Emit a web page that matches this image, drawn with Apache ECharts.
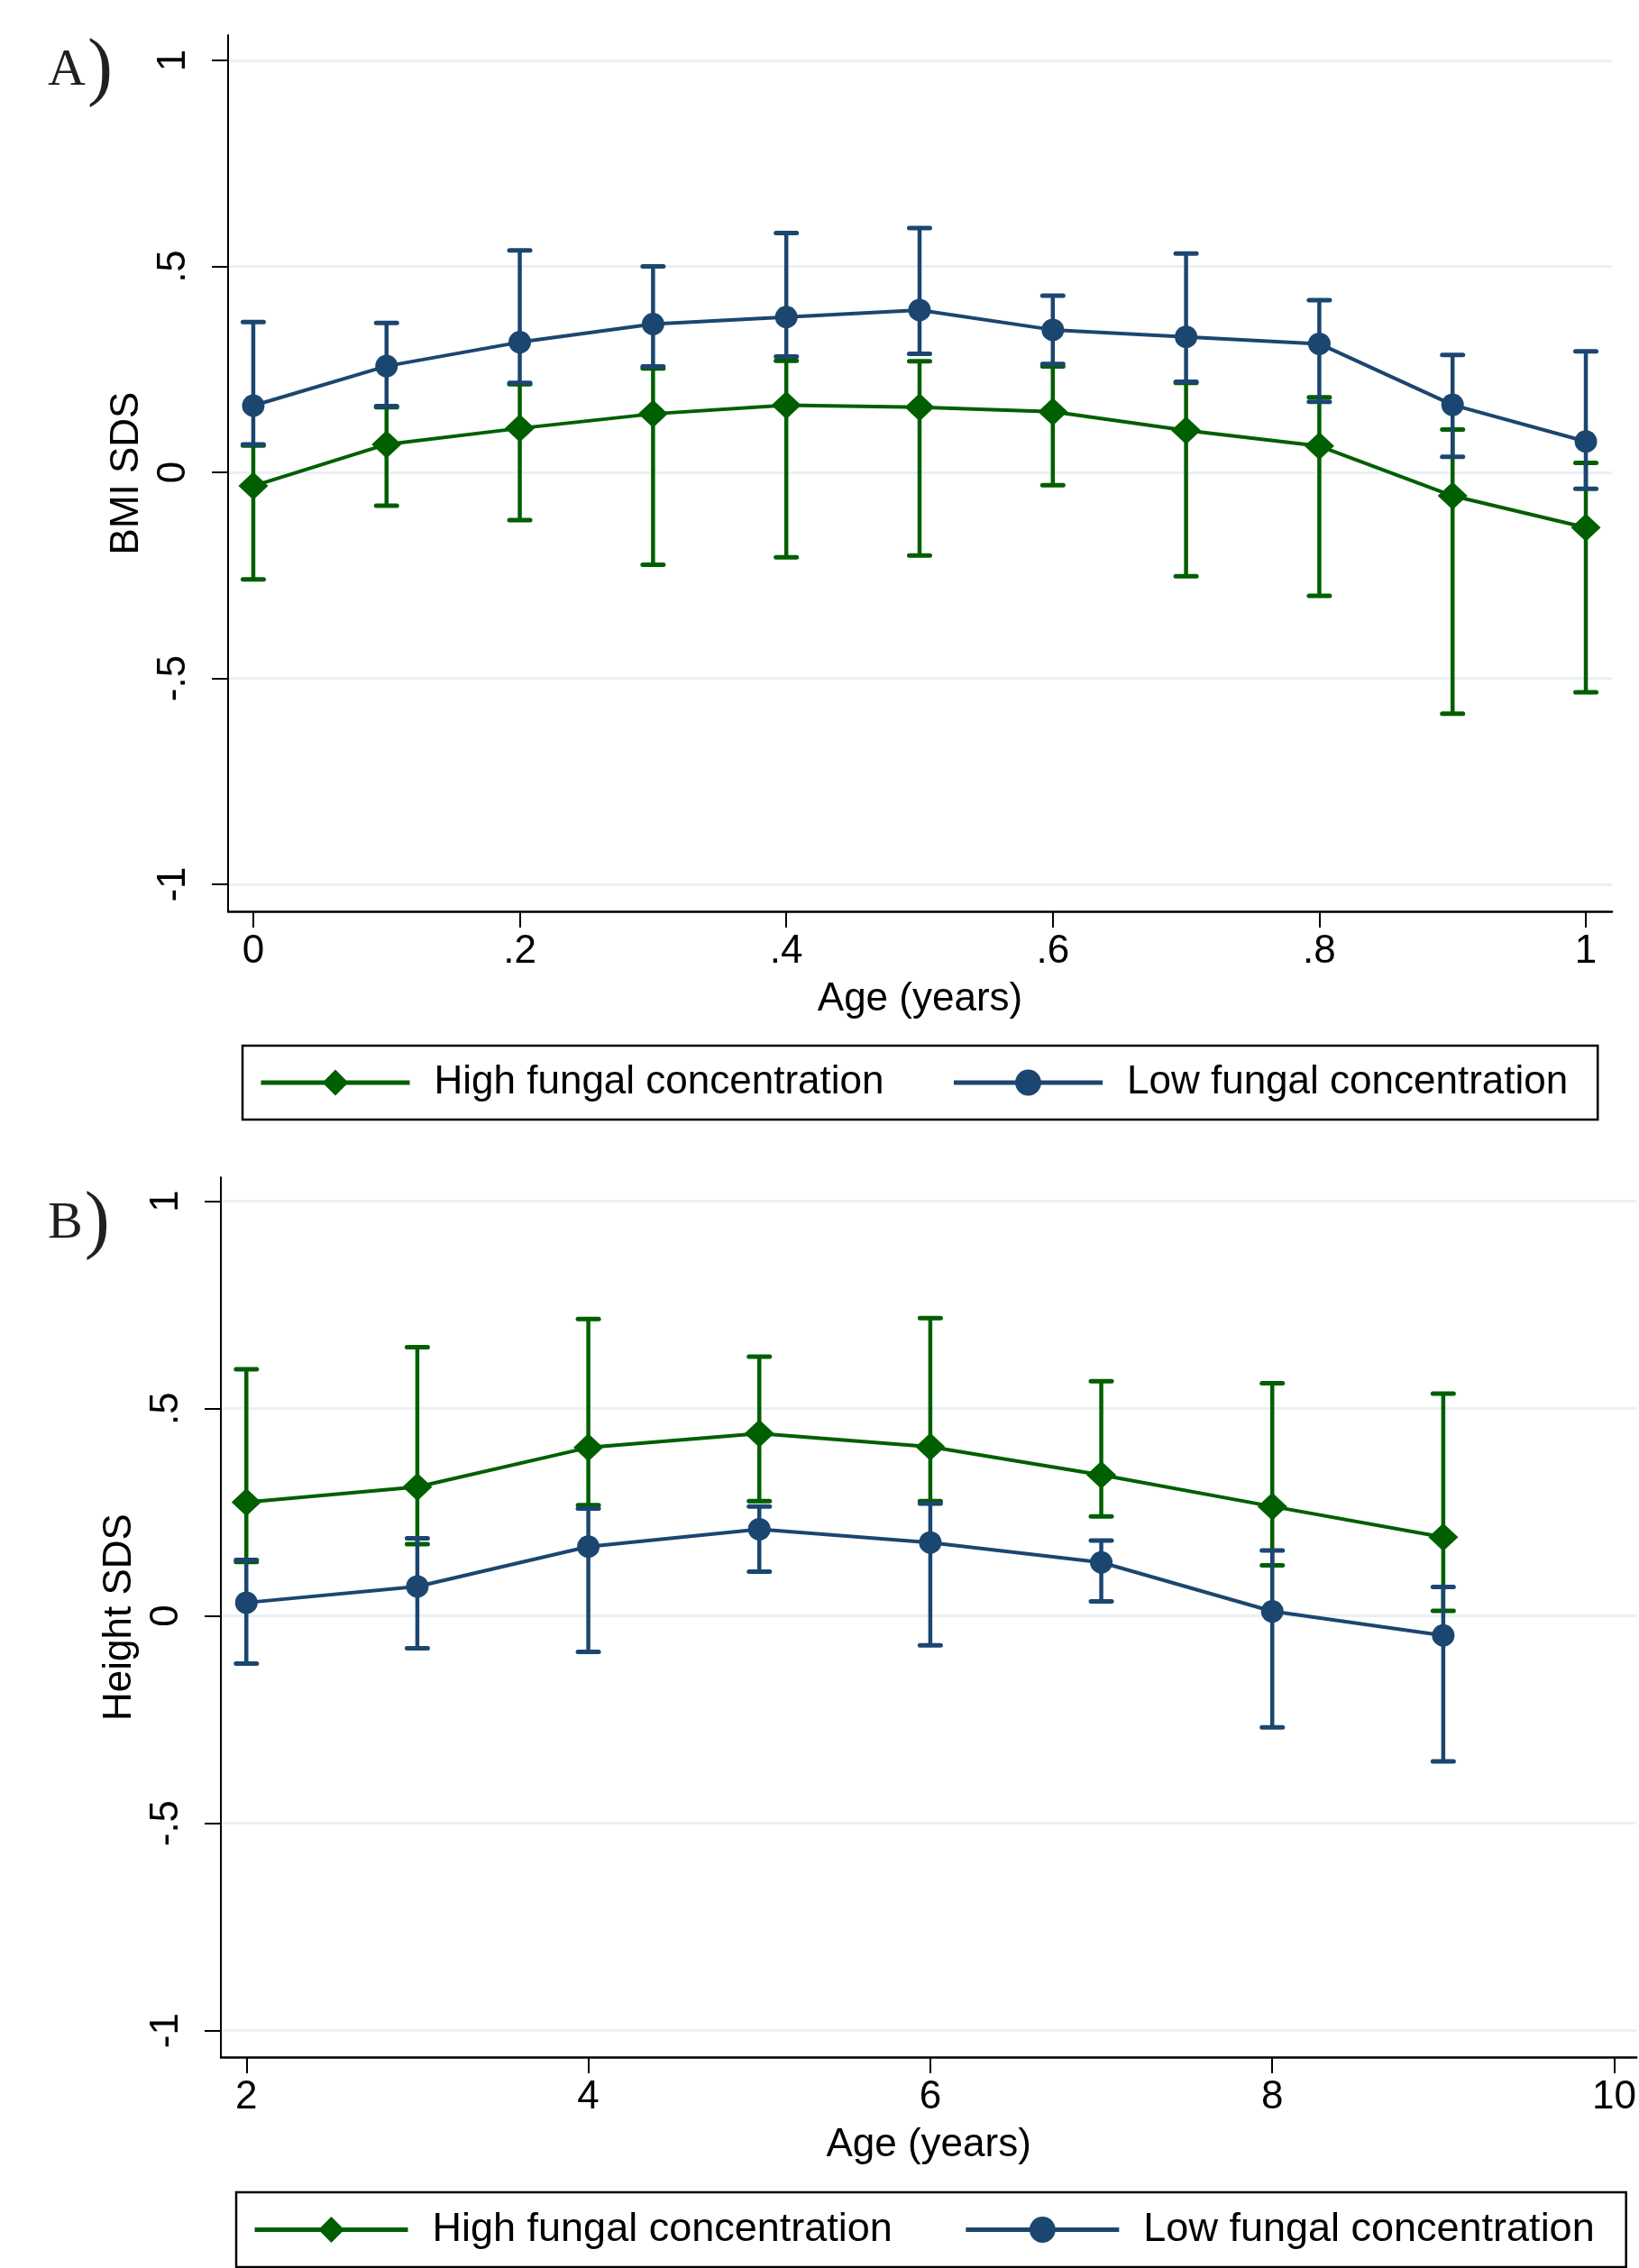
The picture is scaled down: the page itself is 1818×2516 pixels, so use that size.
<!DOCTYPE html>
<html>
<head>
<meta charset="utf-8">
<script src="https://cdn.jsdelivr.net/npm/echarts@6/dist/echarts.min.js"></script>
<style>
  html, body { margin: 0; padding: 0; background: #fff; }
  #chart { width: 1818px; height: 2516px; }
</style>
</head>
<body>
<div id="chart"></div>
<script>
// panel A: BMI SDS, age 0-1
let ageA = [0, 0.1, 0.2, 0.3, 0.4, 0.5, 0.6, 0.7, 0.8, 0.9, 1];
let highA = [-0.033, 0.068, 0.107, 0.142, 0.163, 0.158, 0.147, 0.102, 0.064, -0.057, -0.134];
let highA_lo = [-0.26, -0.081, -0.116, -0.224, -0.206, -0.202, -0.031, -0.252, -0.3, -0.586, -0.534];
let highA_hi = [0.065, 0.158, 0.214, 0.252, 0.271, 0.27, 0.257, 0.217, 0.182, 0.104, 0.023];
let lowA = [0.162, 0.258, 0.316, 0.36, 0.377, 0.394, 0.346, 0.329, 0.312, 0.164, 0.075];
let lowA_lo = [0.068, 0.161, 0.217, 0.257, 0.281, 0.288, 0.263, 0.22, 0.171, 0.038, -0.04];
let lowA_hi = [0.365, 0.363, 0.539, 0.5, 0.581, 0.593, 0.429, 0.531, 0.418, 0.285, 0.294];

// panel B: Height SDS, age 2-9
let ageB = [2, 3, 4, 5, 6, 7, 8, 9];
let highB = [0.274, 0.311, 0.406, 0.44, 0.408, 0.34, 0.264, 0.19];
let highB_lo = [0.13, 0.173, 0.267, 0.277, 0.277, 0.24, 0.122, 0.012];
let highB_hi = [0.595, 0.648, 0.716, 0.625, 0.718, 0.566, 0.561, 0.536];
let lowB = [0.032, 0.071, 0.167, 0.209, 0.177, 0.129, 0.011, -0.047];
let lowB_lo = [-0.115, -0.078, -0.087, 0.107, -0.071, 0.035, -0.269, -0.351];
let lowB_hi = [0.135, 0.187, 0.259, 0.264, 0.271, 0.182, 0.158, 0.07];

let yTicks = [-1, -0.5, 0, 0.5, 1];
let xTicksA = [0, 0.2, 0.4, 0.6, 0.8, 1];
let xTicksB = [2, 4, 6, 8, 10];

const GREEN = '#005f00';
const BLUE = '#1b4670';
const HIGH = 'High fungal concentration';
const LOW = 'Low fungal concentration';
const FONT = 'Liberation Sans';

function stataNum(v) {
    // stata style: .5, -.5
    return String(v).replace('0.', '.');
}
function pairs(xs, ys) {
    return xs.map(function (x, i) { return [x, ys[i]]; });
}
function ciData(xs, lo, hi) {
    return xs.map(function (x, i) { return [x, lo[i], hi[i]]; });
}
function errorBar(params, api) {
    let x = api.value(0);
    let top = api.coord([x, api.value(2)]);
    let bot = api.coord([x, api.value(1)]);
    let half = 11.5;
    let col = api.visual('color');
    let st = { stroke: col, lineWidth: 4.5 };
    let cap = { stroke: col, lineWidth: 5, lineCap: 'round' };
    return {
        type: 'group',
        children: [
            { type: 'line', shape: { x1: top[0], y1: top[1], x2: bot[0], y2: bot[1] }, style: st },
            { type: 'line', shape: { x1: top[0] - half, y1: top[1], x2: top[0] + half, y2: top[1] }, style: cap },
            { type: 'line', shape: { x1: bot[0] - half, y1: bot[1], x2: bot[0] + half, y2: bot[1] }, style: cap }
        ]
    };
}
function xAxisOf(idx, min, max, ticks) {
    return {
        type: 'value', gridIndex: idx, min: min, max: max,
        name: 'Age (years)', nameLocation: 'middle', nameGap: 76,
        nameTextStyle: { fontFamily: FONT, fontSize: 44, color: '#000' },
        axisLine: { onZero: false, lineStyle: { color: '#000', width: 2.5 } },
        axisTick: { show: true, length: 18, customValues: ticks, lineStyle: { color: '#000', width: 2 } },
        axisLabel: { customValues: ticks, margin: 23, fontFamily: FONT, fontSize: 44, color: '#000', formatter: stataNum },
        splitLine: { show: false }
    };
}
function yAxisOf(idx, min, max, title, gap) {
    return {
        type: 'value', gridIndex: idx, min: min, max: max,
        name: title, nameLocation: 'middle', nameGap: gap,
        nameTextStyle: { fontFamily: FONT, fontSize: 44, color: '#000' },
        axisLine: { show: true, onZero: false, lineStyle: { color: '#000', width: 2 } },
        axisTick: { show: true, length: 18, customValues: yTicks, lineStyle: { color: '#000', width: 2 } },
        axisLabel: { customValues: yTicks, rotate: 90, margin: 38, fontFamily: FONT, fontSize: 44, color: '#000', formatter: stataNum },
        splitLine: { show: true, lineStyle: { color: '#e9f1f3', width: 3 } }
    };
}
function legendOf(idx, left, top, fs, w, gap, pad) {
    return {
        data: [HIGH, LOW],
        left: left, top: top, orient: 'horizontal',
        borderColor: '#000', borderWidth: 2.5, padding: pad,
        itemWidth: w, itemHeight: 36, itemGap: gap,
        textStyle: { fontFamily: FONT, fontSize: fs, color: '#000', padding: [4, 0, 0, 22] },
        lineStyle: { width: 5 },
        selectedMode: false
    };
}
function panelTitle(letter, top) {
    return {
        text: '{a|' + letter + '}{p|)}', left: 48, top: top,
        textStyle: {
            fontWeight: 'normal',
            rich: {
                a: { fontFamily: 'Liberation Serif', fontSize: 58, fontWeight: 'normal', color: '#231f20' },
                p: { fontFamily: 'Liberation Serif', fontSize: 84, fontWeight: 'normal', color: '#231f20', padding: [0, 0, 0, 2] }
            }
        }
    };
}

let chart = echarts.init(document.getElementById('chart'), null, { renderer: 'canvas' });
let option = {
    backgroundColor: '#fff',
    animation: false,
    title: [
        panelTitle('A', 32),
        panelTitle('B', 1311)
    ],
    grid: [
        { left: 253, top: 39, width: 1535, height: 972 },
        { left: 245, top: 1306, width: 1573, height: 976 }
    ],
    xAxis: [
        xAxisOf(0, -0.0189, 1.0196, xTicksA),
        xAxisOf(1, 1.851, 10.13, xTicksB)
    ],
    yAxis: [
        yAxisOf(0, -1.0656, 1.0613, 'BMI SDS', 87),
        yAxisOf(1, -1.0639, 1.0578, 'Height SDS', 90)
    ],
    legend: [
        legendOf(0, 269, 1160, 44, 165, 75, [19, 33, 19, 18]),
        legendOf(1, 262, 2432, 45, 170, 79, [19, 35, 19, 18])
    ],
    series: [
        { name: 'ci high A', type: 'custom', xAxisIndex: 0, yAxisIndex: 0, renderItem: errorBar,
          itemStyle: { color: GREEN }, encode: { x: 0, y: [1, 2] }, data: ciData(ageA, highA_lo, highA_hi), z: 2 },
        { name: 'ci low A', type: 'custom', xAxisIndex: 0, yAxisIndex: 0, renderItem: errorBar,
          itemStyle: { color: BLUE }, encode: { x: 0, y: [1, 2] }, data: ciData(ageA, lowA_lo, lowA_hi), z: 3 },
        { name: HIGH, type: 'line', xAxisIndex: 0, yAxisIndex: 0, data: pairs(ageA, highA),
          symbol: 'diamond', symbolSize: [33, 31], color: GREEN,
          lineStyle: { color: GREEN, width: 4 }, itemStyle: { color: GREEN }, z: 4 },
        { name: LOW, type: 'line', xAxisIndex: 0, yAxisIndex: 0, data: pairs(ageA, lowA),
          symbol: 'circle', symbolSize: 25, color: BLUE,
          lineStyle: { color: BLUE, width: 4 }, itemStyle: { color: BLUE }, z: 5 },

        { name: 'ci high B', type: 'custom', xAxisIndex: 1, yAxisIndex: 1, renderItem: errorBar,
          itemStyle: { color: GREEN }, encode: { x: 0, y: [1, 2] }, data: ciData(ageB, highB_lo, highB_hi), z: 2 },
        { name: 'ci low B', type: 'custom', xAxisIndex: 1, yAxisIndex: 1, renderItem: errorBar,
          itemStyle: { color: BLUE }, encode: { x: 0, y: [1, 2] }, data: ciData(ageB, lowB_lo, lowB_hi), z: 3 },
        { name: HIGH, type: 'line', xAxisIndex: 1, yAxisIndex: 1, data: pairs(ageB, highB),
          symbol: 'diamond', symbolSize: [33, 31], color: GREEN,
          lineStyle: { color: GREEN, width: 4 }, itemStyle: { color: GREEN }, z: 4 },
        { name: LOW, type: 'line', xAxisIndex: 1, yAxisIndex: 1, data: pairs(ageB, lowB),
          symbol: 'circle', symbolSize: 25, color: BLUE,
          lineStyle: { color: BLUE, width: 4 }, itemStyle: { color: BLUE }, z: 5 }
    ]
};
chart.setOption(option);
</script>
</body>
</html>
